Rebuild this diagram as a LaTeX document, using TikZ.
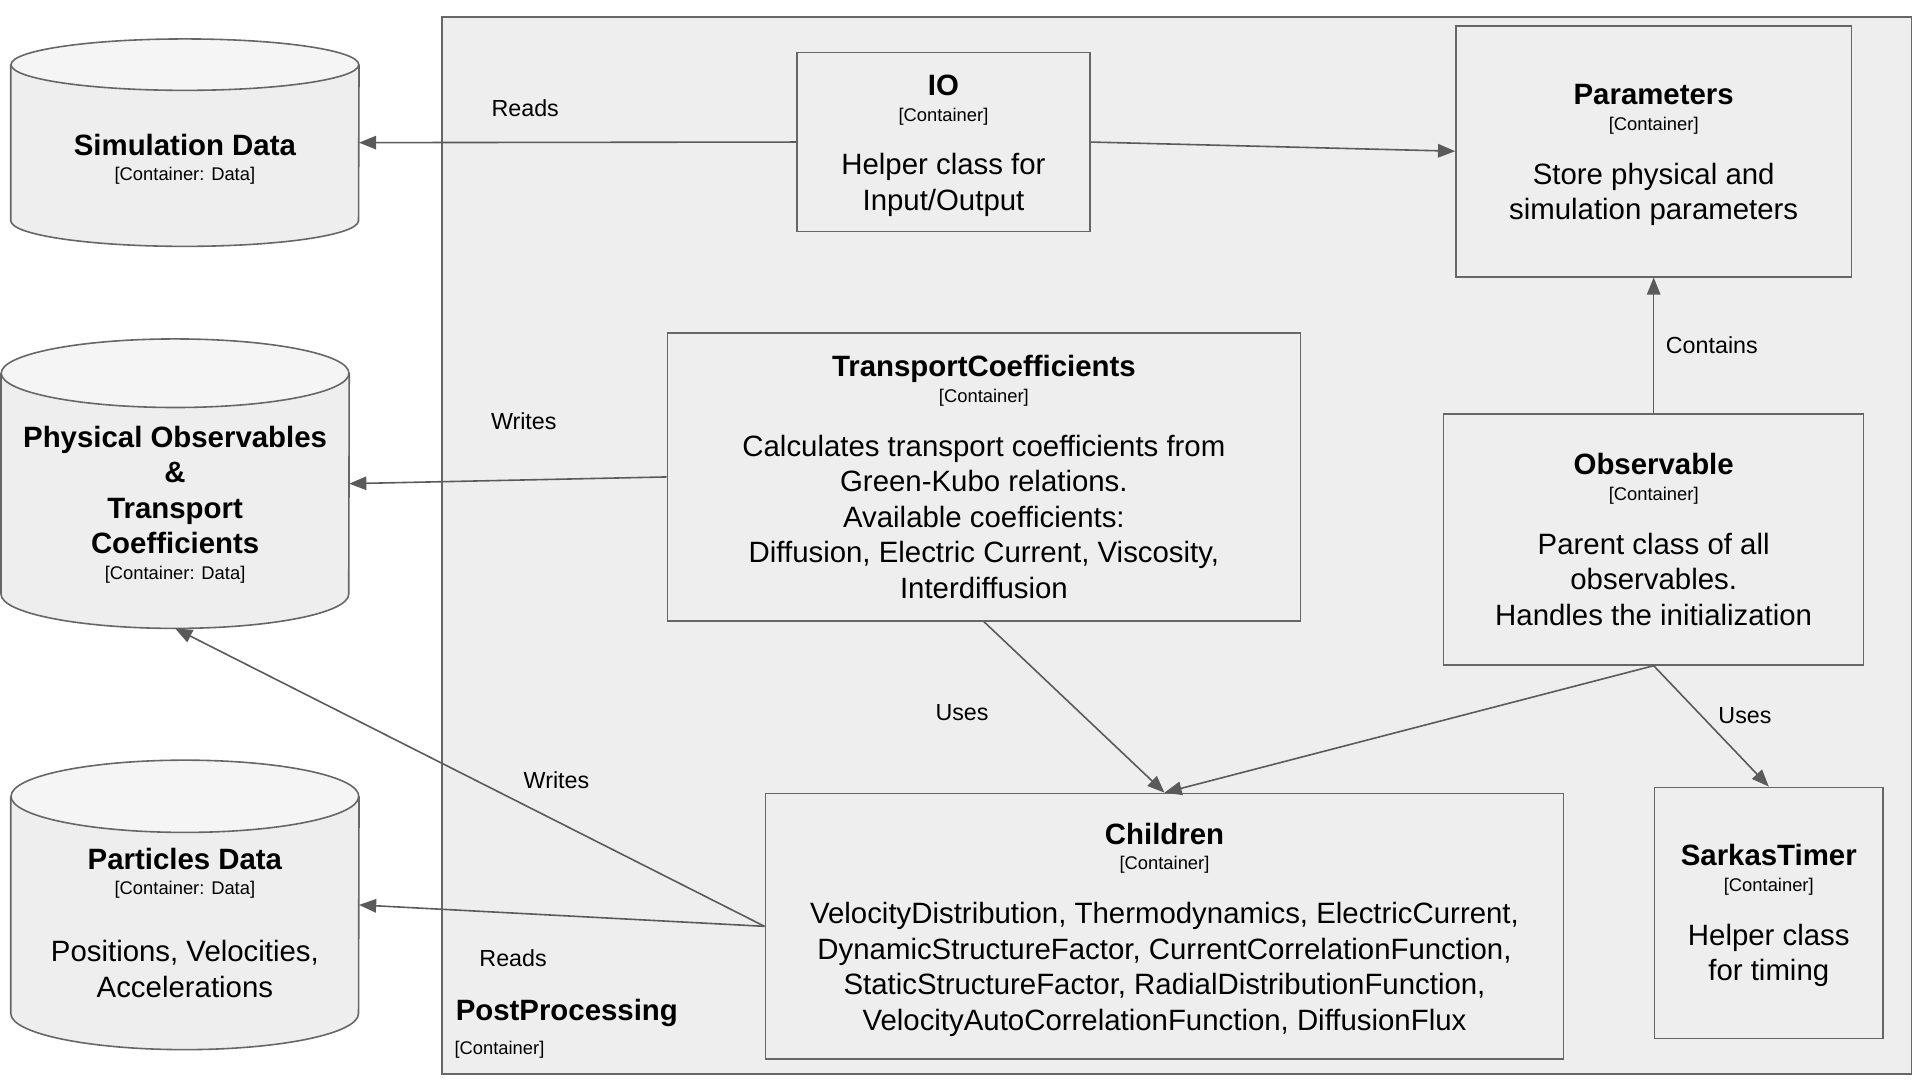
\documentclass[tikz,border=0pt]{standalone}
\usepackage{fontspec}
\setmainfont{Liberation Sans}
\usetikzlibrary{arrows.meta,calc}
\definecolor{fond}{HTML}{EEEEEE}
\definecolor{fondhaut}{HTML}{F5F5F5}
\definecolor{trait}{HTML}{666666}
\definecolor{gristrait}{HTML}{5A5A5A}
% Contenu d'un conteneur : [hauteur du titre], nom, type, description
\newcommand{\Conteneur}[4][0pt]{{\bfseries\rule{0pt}{#1}#2}\\[-8.2pt]{\fontsize{15}{18}\selectfont[#3]}\\[15pt]#4}
\newcommand{\Donnees}[2]{{\bfseries #1}\\[-8.2pt]{\fontsize{15}{18}\selectfont[#2]}}
% Cylindre autour d'un noeud : nom, demi-hauteur ellipse, demi-largeur
\newcommand{\Cylindre}[3]{%
\fill[fond] ($(#1.north west)+(0,#2)$) -- ($(#1.south west)+(0,-#2)$) arc[start angle=180,end angle=360,x radius=#3pt,y radius=#2pt] -- ($(#1.north east)+(0,#2)$) -- cycle;
\draw[trait,line width=1.3pt] ($(#1.north west)+(0,#2)$) -- ($(#1.south west)+(0,-#2)$) arc[start angle=180,end angle=360,x radius=#3pt,y radius=#2pt] -- ($(#1.north east)+(0,#2)$);
\filldraw[fill=fondhaut,draw=trait,line width=1.3pt] ($(#1.north)+(0,#2)$) ellipse[x radius=#3pt,y radius=#2pt];
}
\begin{document}
\begin{tikzpicture}[x=1pt,y=-1pt]
% Styles
\tikzstyle{conteneur}=[draw=trait,fill=fond,line width=1.3pt,align=center,inner sep=0pt,font=\fontsize{24}{29}\selectfont]
\tikzstyle{base}=[inner sep=0pt,minimum width=284pt]
\tikzstyle{texte}=[align=center,inner sep=0pt,font=\fontsize{24}{29}\selectfont]
\tikzstyle{frontiere}=[draw=trait,fill=fond,line width=1.3pt,inner sep=0pt]
\tikzstyle{fleche}=[-{Triangle[length=14pt,width=11pt]},draw=gristrait,line width=1.3pt]
\tikzstyle{etiquette}=[inner sep=0pt,font=\fontsize{19}{23}\selectfont]
\useasboundingbox (0,0) rectangle (1568,882);
% Cadre
\node[frontiere,minimum width=1200pt,minimum height=863pt] (PP) at (961,445.5) {};
\node[anchor=west,inner sep=0pt,font=\fontsize{24}{29}\selectfont\bfseries] (PPnom) at (372,827) {PostProcessing};
\node[anchor=west,inner sep=0pt,font=\fontsize{15}{18}\selectfont] (PPtype) at (371,857) {[Container]};
% Bases de donnees
\node[base,minimum height=169pt] (simdonnees) at (151,116.5) {};
\Cylindre{simdonnees}{21}{142}
\node[texte] (simdonneesT) at (151,130) {\Donnees{Simulation Data}{Container: Data}};
\node[base,minimum height=236pt] (physobs) at (143,395) {};
\Cylindre{physobs}{28}{142}
\node[texte] (physobsT) at (143,412) {\textbf{Physical Observables}\\\textbf{\&}\\\textbf{Transport}\\\Donnees{Coefficients}{Container: Data}};
\node[base,minimum height=236pt] (particules) at (151,739) {};
\Cylindre{particules}{29.5}{142}
\node[texte] (particulesT) at (151,753.5) {\Donnees{Particles Data}{Container: Data}\\[26pt]Positions, Velocities,\\Accelerations};
% Conteneurs
\node[conteneur,minimum width=239pt,minimum height=146pt] (io) at (770.5,116) {\Conteneur[23pt]{IO}{Container}{Helper class for\\Input/Output}};
\node[conteneur,minimum width=323pt,minimum height=205pt] (parametres) at (1350.5,123.5) {\Conteneur[23pt]{Parameters}{Container}{Store physical and\\simulation parameters}};
\node[conteneur,minimum width=517pt,minimum height=235pt] (transport) at (803.5,389.5) {\Conteneur{TransportCoefficients}{Container}{Calculates transport coefficients from\\Green-Kubo relations.\\Available coefficients:\\Diffusion, Electric Current, Viscosity,\\Interdiffusion}};
\node[conteneur,minimum width=343pt,minimum height=205pt] (observable) at (1350.5,440.5) {\Conteneur{Observable}{Container}{Parent class of all\\observables.\\Handles the initialization}};
\node[conteneur,minimum width=652pt,minimum height=217pt] (enfants) at (951,756.5) {\Conteneur[23pt]{Children}{Container}{VelocityDistribution, Thermodynamics, ElectricCurrent,\\DynamicStructureFactor, CurrentCorrelationFunction,\\StaticStructureFactor, RadialDistributionFunction,\\VelocityAutoCorrelationFunction, DiffusionFlux}};
\node[conteneur,minimum width=187pt,minimum height=205pt] (chrono) at (1444.5,745.5) {\Conteneur[22pt]{SarkasTimer}{Container}{Helper class\\for timing}};
% Arcs
\draw[fleche] (io.west) -- (simdonnees.east) node[etiquette,pos=0.62,yshift=28pt] (lblA) {Reads};
\draw[fleche] (io.east) -- (parametres.west);
\draw[fleche] (observable.north) -- (parametres.south) node[etiquette,pos=0.5,xshift=47.5pt] (lblB) {Contains};
\draw[fleche] (transport.west) -- (physobs.east) node[etiquette,pos=0.45,yshift=48pt] (lblC) {Writes};
\draw[fleche] (transport.south) -- (enfants.north) node[etiquette,pos=0.53,xshift=-96pt] (lblD) {Uses};
\draw[fleche] (observable.south) -- (enfants.north);
\draw[fleche] (observable.south) -- (chrono.north) node[etiquette,pos=0.41,xshift=36pt] (lblE) {Uses};
\draw[fleche] (enfants.west) -- (physobs.south) node[etiquette,pos=0.353,yshift=33.6pt] (lblF) {Writes};
\draw[fleche] (enfants.west) -- (particules.east) node[etiquette,pos=0.62,yshift=-37pt] (lblG) {Reads};
\end{tikzpicture}
\end{document}
